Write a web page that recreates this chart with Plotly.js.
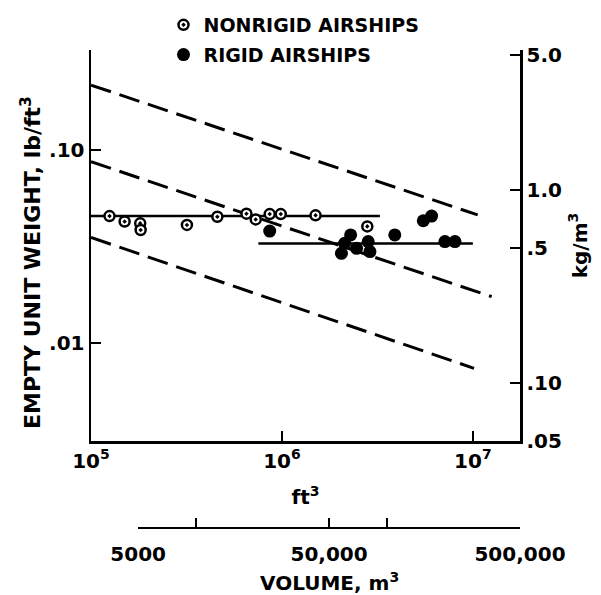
<!DOCTYPE html>
<html>
<head>
<meta charset="utf-8">
<script src="https://cdn.plot.ly/plotly-3.0.1.min.js"></script>
<style>html,body{margin:0;padding:0;background:#fff;}#chart{width:601px;height:595px;}</style>
</head>
<body>
<div id="chart"></div>
<script>
// Volumes in ft^3, empty unit weights in lb/ft^3
var nonrigidVolume = [1.25e5, 1.50e5, 1.81e5, 1.82e5, 3.18e5, 4.59e5, 6.52e5, 7.29e5, 8.63e5, 9.86e5, 1.50e6, 2.80e6];
var nonrigidWeight = [0.0457, 0.0428, 0.0419, 0.0387, 0.0411, 0.0453, 0.0470, 0.0439, 0.0468, 0.0468, 0.0461, 0.0404];

var rigidVolume = [8.63e5, 2.29e6, 2.13e6, 2.05e6, 2.46e6, 2.83e6, 2.89e6, 3.90e6, 5.50e6, 6.08e6, 7.14e6, 8.06e6];
var rigidWeight = [0.0382, 0.0365, 0.0330, 0.0293, 0.0311, 0.0337, 0.0299, 0.0365, 0.0432, 0.0457, 0.0337, 0.0337];

// mean lines
var nonrigidMeanX = [1e5, 3.26e6];
var nonrigidMeanY = [0.0457, 0.0457];
var rigidMeanX = [7.53e5, 1.0e7];
var rigidMeanY = [0.0329, 0.0329];

// dashed trend bands
var upperBandX = [1e5, 1.06e7];
var upperBandY = [0.218, 0.0463];
var middleBandX = [1e5, 1.255e7];
var middleBandY = [0.0874, 0.01746];
var lowerBandX = [1e5, 1.014e7];
var lowerBandY = [0.0354, 0.00743];

// tick labels
var ftTickVals = [1e5, 1e6, 1e7];
var ftTickText = ['10<sup>5</sup>', '10<sup>6</sup>', '10<sup>7</sup>'];
var lbTickVals = [0.01, 0.1];
var lbTickText = ['.01', '.10'];
var kgTickVals = [0.05, 0.1, 0.5, 1.0, 5.0];
var kgTickText = ['.05', '.10', '.5', '1.0', '5.0'];
var m3TickVals = [5000, 10000, 50000, 100000, 500000];
var m3TickText = ['5000', '', '50,000', '', '500,000'];

var FT3_PER_M3 = 35.3147;
var KGM3_PER_LBFT3 = 16.0185;

var FONT = {family: 'DejaVu Sans', size: 20, color: '#000', weight: 'bold'};

var yLo = Math.log10(0.05 / KGM3_PER_LBFT3);
var yHi = yLo + 391 / 193;
var xLo = 5;
var xHi = Math.log10(m3TickVals[m3TickVals.length - 1] * FT3_PER_M3);
var x2Lo = Math.log10(m3TickVals[0]);
var x2Hi = Math.log10(m3TickVals[m3TickVals.length - 1]);
var x2DomainStart = (Math.log10(m3TickVals[0] * FT3_PER_M3) - xLo) / (xHi - xLo);

function dashLine(x, y) {
  return {x: x, y: y, type: 'scatter', mode: 'lines', showlegend: false, hoverinfo: 'skip',
    line: {color: '#000', width: 3, dash: '21px,9px'}};
}
function solidLine(x, y) {
  return {x: x, y: y, type: 'scatter', mode: 'lines', showlegend: false, hoverinfo: 'skip',
    line: {color: '#000', width: 2.5}};
}

var traces = [
  dashLine(upperBandX, upperBandY),
  dashLine(middleBandX, middleBandY),
  dashLine(lowerBandX, lowerBandY),
  solidLine(nonrigidMeanX, nonrigidMeanY),
  solidLine(rigidMeanX, rigidMeanY),
  {x: nonrigidVolume, y: nonrigidWeight, type: 'scatter', mode: 'markers', name: 'NONRIGID AIRSHIPS',
    legendgroup: 'a',
    marker: {symbol: 'circle-dot', size: 10, color: '#fff', line: {color: '#000', width: 2.5}}},
  {x: rigidVolume, y: rigidWeight, type: 'scatter', mode: 'markers', name: 'RIGID AIRSHIPS',
    legendgroup: 'b',
    marker: {symbol: 'circle', size: 13, color: '#000', line: {width: 0}}},
  // empty traces that only register the secondary (metric) axes
  {x: [], y: [], type: 'scatter', mode: 'markers', xaxis: 'x', yaxis: 'y2', showlegend: false, hoverinfo: 'skip'},
  {x: [], y: [], type: 'scatter', mode: 'markers', xaxis: 'x2', yaxis: 'y', showlegend: false, hoverinfo: 'skip'}
];

var layout = {
  width: 601, height: 595,
  margin: {l: 91, r: 81, t: 50, b: 67, autoexpand: false},
  paper_bgcolor: '#fff', plot_bgcolor: 'rgba(0,0,0,0)',
  font: FONT,
  showlegend: true,
  legend: {x: 0.169, xanchor: 'left', xref: 'paper', y: (528 - 6) / 478, yref: 'paper', yanchor: 'top',
    font: {family: 'DejaVu Sans', size: 19, color: '#000', weight: 'bold'},
    bgcolor: 'rgba(0,0,0,0)', tracegroupgap: 2, traceorder: 'grouped'},
  xaxis: {type: 'log', range: [xLo, xHi], domain: [0, 1], anchor: 'y',
    showline: true, linecolor: '#000', linewidth: 2.5, mirror: false,
    ticks: 'inside', ticklen: 10, tickwidth: 2, tickcolor: '#000',
    tickvals: ftTickVals, ticktext: ftTickText, tickfont: FONT,
    showgrid: false, zeroline: false,
    title: {text: 'ft<sup>3</sup>', font: FONT, standoff: 19}},
  xaxis2: {type: 'log', range: [x2Lo, x2Hi], domain: [x2DomainStart, 1], anchor: 'free', position: 0,
    showline: true, linecolor: '#000', linewidth: 2,
    ticks: 'inside', ticklen: 9, tickwidth: 2, tickcolor: '#000', ticklabelstandoff: 8,
    tickvals: m3TickVals, ticktext: m3TickText, tickfont: FONT,
    showgrid: false, zeroline: false},
  yaxis: {type: 'log', range: [yLo, yHi], domain: [87 / 478, 1], anchor: 'x',
    showline: true, linecolor: '#000', linewidth: 2.5,
    ticks: 'inside', ticklen: 10, tickwidth: 2, tickcolor: '#000',
    tickvals: lbTickVals, ticktext: lbTickText, tickfont: FONT,
    showgrid: false, zeroline: false},
  yaxis2: {type: 'log', overlaying: 'y', side: 'right', anchor: 'x',
    range: [yLo + Math.log10(KGM3_PER_LBFT3), yHi + Math.log10(KGM3_PER_LBFT3)],
    showline: true, linecolor: '#000', linewidth: 2.5,
    ticks: 'inside', ticklen: 10, tickwidth: 2, tickcolor: '#000',
    tickvals: kgTickVals, ticktext: kgTickText, tickfont: FONT,
    showgrid: false, zeroline: false,
    title: {text: 'kg/m<sup>3</sup>', font: FONT, standoff: 12}},
  annotations: [
    {text: 'EMPTY UNIT WEIGHT, lb/ft<sup>3</sup>', textangle: -90, xref: 'paper', yref: 'paper',
      x: -0.14, y: (528 - 262) / 478, xanchor: 'center', yanchor: 'middle', showarrow: false,
      font: {family: 'DejaVu Sans', size: 22, color: '#000', weight: 'bold'}},
    {text: 'VOLUME, m<sup>3</sup>', xref: 'x2', yref: 'paper',
      x: Math.log10(m3TickVals[2]), y: (528 - 582) / 478, xanchor: 'center', yanchor: 'middle',
      showarrow: false, font: FONT}
  ]
};

Plotly.newPlot('chart', traces, layout, {staticPlot: true, displayModeBar: false});
</script>
</body>
</html>
